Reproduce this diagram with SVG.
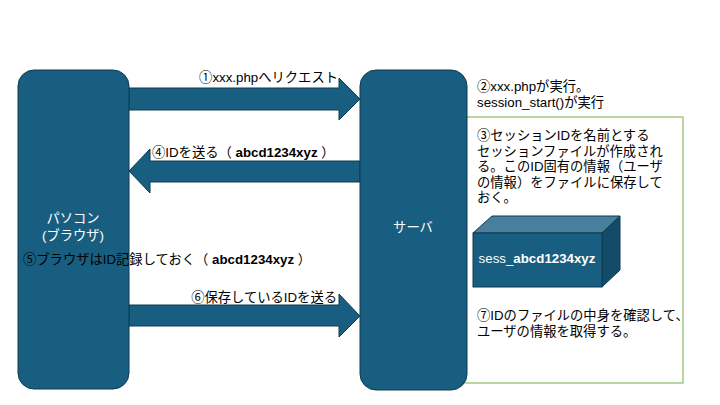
<svg xmlns="http://www.w3.org/2000/svg" width="720" height="405" viewBox="0 0 720 405">
<style>
.node{fill:#185E80;stroke:#0E3A50;stroke-width:1}
.arrow{fill:#185E80;stroke:#0E3A50;stroke-width:1}
.t{font-family:"Liberation Sans","Noto Sans CJK JP",sans-serif;font-size:13.3px;fill:#000}
.w{fill:#fff;text-anchor:middle}
.b{font-weight:bold}
</style>
<rect width="720" height="405" fill="#fff"/>
<rect id="note" x="460" y="117" width="223" height="266" fill="#fff" stroke="#70AD47" stroke-width="1"/>
<g id="connectors">
<polygon class="arrow" points="129,88 339,88 339,78 360,99 339,120 339,110 129,110"/>
<polygon class="arrow" points="360,161 150,161 150,149 129,171 150,193 150,182 360,182"/>
<polygon class="arrow" points="129,305 339,305 339,294 360,316 339,337 339,326 129,326"/>
</g>
<g id="pc">
<rect class="node" x="18" y="70" width="111" height="319" rx="16"/>
<text class="t w" x="73" y="223">パソコン</text>
<text class="t w" x="73" y="240">(ブラウザ)</text>
</g>
<g id="server">
<rect class="node" x="360" y="70" width="107" height="320" rx="16"/>
<text class="t w" x="413" y="232">サーバ</text>
</g>
<g id="file">
<polygon points="473,233 492,216 620,216 602,233" fill="#477F9C" stroke="#0E3A50" stroke-width="1"/>
<polygon points="602,233 620,216 620,270 602,287" fill="#134C69" stroke="#0E3A50" stroke-width="1"/>
<rect x="473" y="233" width="129" height="54" fill="#185E80" stroke="#0E3A50" stroke-width="1"/>
<text class="t" x="537" y="263" fill="#fff" style="fill:#fff" text-anchor="middle">sess_<tspan class="b">abcd1234xyz</tspan></text>
</g>
<g id="labels">
<text class="t" x="338" y="82" text-anchor="end">①xxx.phpへリクエスト</text>
<text class="t" x="152" y="157">④IDを送る（ <tspan class="b">abcd1234xyz</tspan> ）</text>
<text class="t" x="23" y="264">⑤ブラウザはID記録しておく（ <tspan class="b">abcd1234xyz</tspan> ）</text>
<text class="t" x="337" y="302" text-anchor="end">⑥保存しているIDを送る</text>
<text class="t" x="477" y="91">②xxx.phpが実行。</text>
<text class="t" x="477" y="107">session_start()が実行</text>
<text class="t" x="477" y="140">③セッションIDを名前とする</text>
<text class="t" x="477" y="155.5">セッションファイルが作成され</text>
<text class="t" x="477" y="171">る。このID固有の情報（ユーザ</text>
<text class="t" x="477" y="186.5">の情報）をファイルに保存して</text>
<text class="t" x="477" y="202">おく。</text>
<text class="t" x="477" y="320">⑦IDのファイルの中身を確認して、</text>
<text class="t" x="477" y="336">ユーザの情報を取得する。</text>
</g>
</svg>
